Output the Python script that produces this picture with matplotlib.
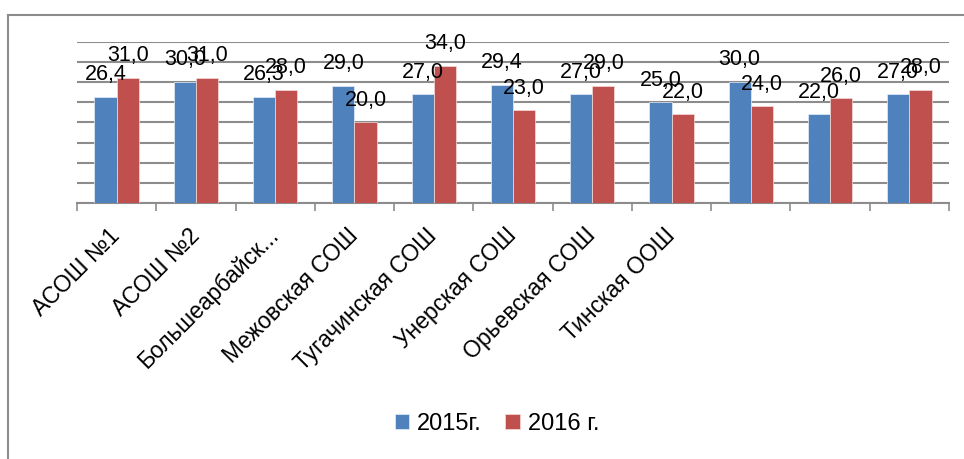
import matplotlib
matplotlib.use("Agg")
import matplotlib.pyplot as plt
from matplotlib.lines import Line2D
import numpy as np

plt.rcParams['font.family'] = ['Liberation Sans', 'DejaVu Sans']

categories = ["АСОШ №1", "АСОШ №2", "Большеарбайск...", "Межовская СОШ",
              "Тугачинская СОШ", "Унерская СОШ", "Орьевская СОШ", "Тинская ООШ",
              "", "", ""]
series_names = ["2015г.", "2016 г."]
values_2015 = [26.4, 30.0, 26.3, 29.0, 27.0, 29.4, 27.0, 25.0, 30.0, 22.0, 27.0]
values_2016 = [31.0, 31.0, 28.0, 20.0, 34.0, 23.0, 29.0, 22.0, 24.0, 26.0, 28.0]
colors = ["#4F81BD", "#C0504D"]

W, H = 964, 459
fig = plt.figure(figsize=(W / 100, H / 100), dpi=100)
ax = fig.add_axes([77 / W, (H - 203) / H, (949 - 77) / W, (203 - 42) / H])

n = len(categories)
x = np.arange(n)
bw = 0.28
ax.bar(x - bw / 2, values_2015, bw, color=colors[0], label=series_names[0],
       edgecolor="#E6EEF7", linewidth=0.5, zorder=3)
ax.bar(x + bw / 2, values_2016, bw, color=colors[1], label=series_names[1],
       edgecolor="#F2DCDB", linewidth=0.5, zorder=3)

def fmt(v):
    return f"{v:.1f}".replace(".", ",")

for xi, v in zip(x - bw / 2, values_2015):
    ax.annotate(fmt(v), (xi, v), xytext=(0, 8.5), textcoords="offset points",
                ha="center", va="bottom", fontsize=15.5, zorder=5)
for xi, v in zip(x + bw / 2, values_2016):
    ax.annotate(fmt(v), (xi, v), xytext=(0, 8.5), textcoords="offset points",
                ha="center", va="bottom", fontsize=15.5, zorder=5)

ax.set_xlim(-0.5, n - 0.5)
ax.set_ylim(0, 40)
ax.set_yticks(np.arange(0, 41, 5))
ax.yaxis.grid(True, color="#8C8C8C", linewidth=1.5, zorder=0)
ax.tick_params(axis="y", left=False, labelleft=False)
for s in ["left", "right", "top"]:
    ax.spines[s].set_visible(False)
ax.spines["bottom"].set_color("#8C8C8C")
ax.spines["bottom"].set_linewidth(1.5)

ax.set_xticks(np.arange(n + 1) - 0.5)
ax.set_xticklabels([""] * (n + 1))
ax.tick_params(axis="x", which="major", direction="out", length=5.5,
               width=1.2, color="#8C8C8C")
ax.set_xticks(x, minor=True)
ax.set_xticklabels(categories, minor=True, rotation=45, ha="right",
                   va="center", rotation_mode="anchor", fontsize=16.5)
ax.tick_params(axis="x", which="minor", length=0, pad=21)

leg = fig.legend(loc="center", bbox_to_anchor=(497 / W, (H - 424) / H), ncol=2,
                 frameon=False, fontsize=17, handlelength=0.6, handleheight=0.6,
                 handletextpad=0.35, columnspacing=1.0)

fig.add_artist(Line2D([7.5 / W, 7.5 / W], [0, (H - 14.5) / H], color="#8C8C8C",
                      linewidth=1.5, transform=fig.transFigure))
fig.add_artist(Line2D([7.5 / W, 1], [(H - 14.5) / H, (H - 14.5) / H],
                      color="#8C8C8C", linewidth=1.5, transform=fig.transFigure))

fig.savefig("out.png", dpi=100)
